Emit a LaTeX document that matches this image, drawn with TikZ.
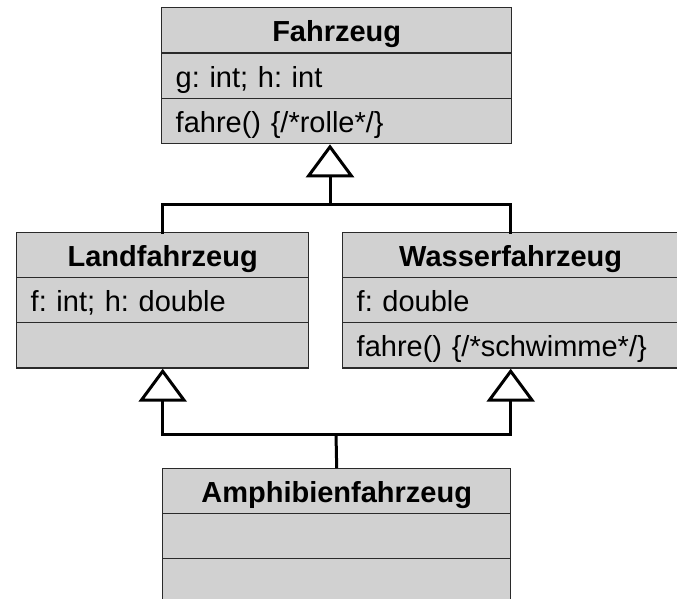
\documentclass[tikz,border=0pt]{standalone}
\usepackage{fontspec}
\setmainfont{Liberation Sans}
\usetikzlibrary{arrows.meta}
\definecolor{boxfill}{HTML}{D1D1D1}
\definecolor{boxline}{HTML}{2A2A2A}
\frenchspacing
\begin{document}
\begin{tikzpicture}[x=1pt,y=-1pt,
  comp/.style={draw=boxline, fill=boxfill, line width=1.4pt, minimum height=45.3pt,
    inner xsep=14pt, inner ysep=0pt, text height=23pt, text depth=0pt,
    anchor=north west, font=\fontsize{29}{34}\selectfont},
  ctitle/.style={comp, align=center, font=\fontsize{29}{34}\selectfont\bfseries},
  cbody/.style={comp, align=left},
  conn/.style={draw=black, line width=3pt, line cap=rect},
  stem/.style={draw=black, line width=3pt},
  gen/.style={draw=black, line width=3pt,
    -{Triangle[fill=white, length=33pt, width=48pt]}}]
\useasboundingbox (0,0) rectangle (677,598);
\clip (0,0) rectangle (677,598);
% Fahrzeug
\node[ctitle, text width=322pt] (fz1) at (161,7) {Fahrzeug};
\node[cbody, text width=322pt] (fz2) at (161,52.3) {g: int; h: int};
\node[cbody, text width=322pt] (fz3) at (161,97.6) {fahre() \{/*rolle*/\}};
% Landfahrzeug
\node[ctitle, text width=264pt] (lf1) at (16,232) {Landfahrzeug};
\node[cbody, text width=264pt] (lf2) at (16,277) {f: int; h: double};
\node[cbody, text width=264pt] (lf3) at (16,322) {};
% Wasserfahrzeug
\node[ctitle, text width=308pt] (wf1) at (342,232) {Wasserfahrzeug};
\node[cbody, text width=308pt] (wf2) at (342,277) {f: double};
\node[cbody, text width=308pt] (wf3) at (342,322) {fahre() \{/*schwimme*/\}};
% Amphibienfahrzeug
\node[ctitle, text width=320pt] (am1) at (162,468) {Amphibienfahrzeug};
\node[cbody, text width=320pt] (am2) at (162,513) {};
\node[cbody, text width=320pt] (am3) at (162,558) {};
% connectors
\coordinate (j1) at (330,204);
\coordinate (j2) at (336,434);
\draw[conn] (lf1.north) -- (lf1.north |- j1) -- (wf1.north |- j1) -- (wf1.north);
\draw[gen] (j1) -- (j1 |- fz3.south);
\draw[conn] (lf3.south |- j2) -- (wf3.south |- j2);
\draw[stem] (am1.north) -- (j2);
\draw[gen] (lf3.south |- j2) -- (lf3.south);
\draw[gen] (wf3.south |- j2) -- (wf3.south);
\end{tikzpicture}
\end{document}
